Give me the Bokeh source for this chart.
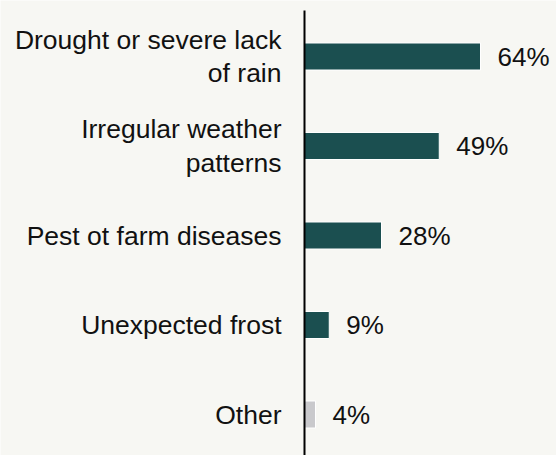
from bokeh.plotting import figure
from bokeh.models import ColumnDataSource, Range1d
from bokeh.core.properties import value
from bokeh.embed import file_html
from bokeh.resources import INLINE

categories = ["Drought or severe lack\nof rain", "Irregular weather\npatterns",
              "Pest ot farm diseases", "Unexpected frost", "Other"]
values = [64, 49, 28, 9, 4]
labels = ["64%", "49%", "28%", "9%", "4%"]
colors = ["#1b4f50", "#1b4f50", "#1b4f50", "#1b4f50", "#c9c9cc"]

W, H = 556, 455
axis_px = 304
px_per_unit = 2.75
top_center_px = 56
row_px = 89.5

pos = list(range(len(categories)))
src = ColumnDataSource(dict(y=pos, v=values, cat=categories, lab=labels, color=colors))

x0 = -axis_px / px_per_unit
x1 = (W - axis_px) / px_per_unit
y_top = -top_center_px / row_px
y_bot = (H - top_center_px) / row_px

p = figure(width=W, height=H, output_backend="svg", toolbar_location=None,
           x_range=Range1d(x0, x1), y_range=Range1d(y_bot, y_top),
           min_border=0, background_fill_color="#f7f7f3", border_fill_color="#f7f7f3",
           outline_line_color=None)
p.axis.visible = False
p.grid.visible = False

bar_h = 27 / row_px
p.hbar(y="y", left=0, right="v", height=bar_h, fill_color="color",
       line_color="white", line_width=1, source=src)

# vertical axis line
p.segment(x0=[0], x1=[0], y0=[y_top + 10 / row_px], y1=[y_bot], line_color="black", line_width=2)

p.text(x=0, y="y", text="cat", source=src, x_offset=-23, text_align="right",
       text_baseline="middle", text_font=value("Liberation Sans"), text_font_size="26.5px",
       text_color="#111111", text_line_height=1.13)
p.text(x="v", y="y", text="lab", source=src, x_offset=17, text_align="left",
       text_baseline="middle", text_font=value("Liberation Sans"), text_font_size="26px",
       text_color="#111111")

open("out.html", "w").write(file_html(p, INLINE))
